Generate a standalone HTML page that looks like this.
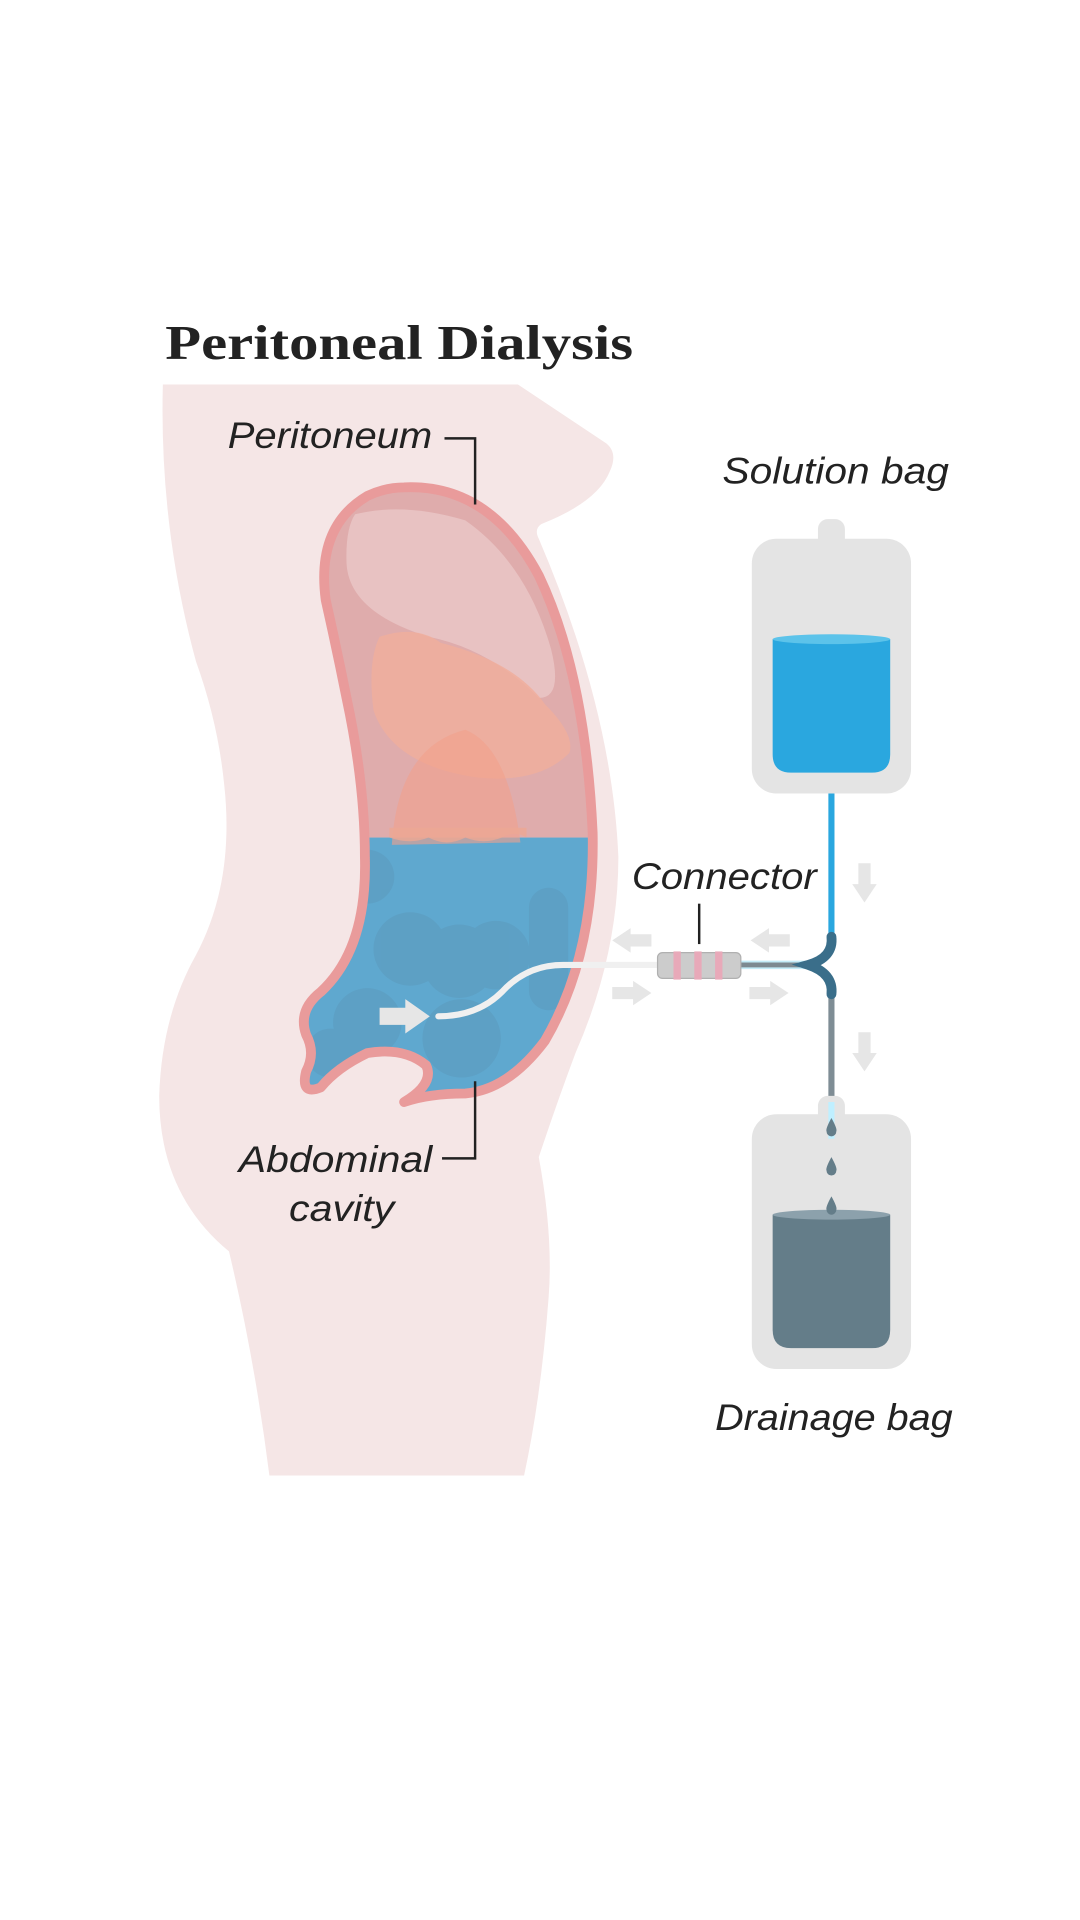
<!DOCTYPE html>
<html><head><meta charset="utf-8"><style>
html,body{margin:0;padding:0;background:#fff;}
svg{display:block;}
.lbl{font-family:"Liberation Sans",sans-serif;font-style:italic;font-size:30px;fill:#222;}
</style></head><body>
<svg width="1080" height="1920" viewBox="0 0 882 1568" xmlns="http://www.w3.org/2000/svg">
<rect width="882" height="1568" fill="#fff"/>
<text x="135" y="293" font-family="Liberation Serif, serif" font-weight="bold" font-size="40" fill="#222" textLength="382" lengthAdjust="spacingAndGlyphs">Peritoneal Dialysis</text>
<!-- body -->
<path d="M133,314 L423,314 L495,362 Q505,370 498,385 Q488,410 442,428 Q436,432 440,440 Q500,580 505,700 Q505,780 470,860 Q455,900 440,945 Q452,1010 448,1060 Q442,1140 428,1205 L220,1205 Q208,1110 187,1022 Q130,975 130,895 Q132,830 160,780 Q192,720 183,640 Q178,590 160,540 Q130,430 133,314 Z" fill="#f5e6e6"/>
<defs>
<clipPath id="cav"><path d="M330,398 Q400,395 440,470 Q478,550 484,680 Q486,780 445,850 Q415,890 380,893 Q350,893 330,900 Q355,885 348,870 Q330,855 300,860 Q275,872 262,888 Q245,895 250,875 Q258,860 250,845 Q243,825 262,810 Q300,775 298,700 Q298,640 283,570 Q275,530 266,490 Q258,430 300,405 Q315,398 330,398 Z"/></clipPath>
</defs>
<g clip-path="url(#cav)">
<rect x="240" y="390" width="260" height="294" fill="#dfacac"/>
<rect x="240" y="684" width="260" height="220" fill="#5fa8cf"/>
<path d="M290,420 Q330,410 380,425 Q430,460 450,530 Q460,570 440,570 Q400,530 350,520 Q285,500 283,460 Q282,432 290,420 Z" fill="#e8c2c2"/>
<path d="M310,520 Q340,510 360,525 Q420,540 445,575 Q470,600 465,615 Q440,640 390,635 Q320,625 305,580 Q300,540 310,520 Z" fill="#f0ae9c" opacity="0.85"/>
<path d="M320,690 Q325,610 380,596 Q415,610 425,688 Z" fill="#f2a08c" opacity="0.6"/>
<path d="M318,684 Q335,690 350,684 Q365,692 380,684 Q395,690 410,684 Q420,678 430,684 L430,676 L318,676 Z" fill="#eca894" opacity="0.8"/>
<g fill="#5a8fae" opacity="0.3">
<circle cx="300" cy="716" r="22"/>
<circle cx="335" cy="775" r="30"/>
<circle cx="375" cy="785" r="30"/>
<circle cx="405" cy="780" r="28"/>
<rect x="432" y="725" width="32" height="100" rx="16"/>
<circle cx="300" cy="835" r="28"/>
<circle cx="377" cy="848" r="32"/>
<circle cx="270" cy="860" r="20"/>
</g>
</g>
<path d="M330,398 Q400,395 440,470 Q478,550 484,680 Q486,780 445,850 Q415,890 380,893 Q350,893 330,900 Q355,885 348,870 Q330,855 300,860 Q275,872 262,888 Q245,895 250,875 Q258,860 250,845 Q243,825 262,810 Q300,775 298,700 Q298,640 283,570 Q275,530 266,490 Q258,430 300,405 Q315,398 330,398 Z" fill="none" stroke="#e99b9b" stroke-width="8" stroke-linejoin="round"/>
<!-- labels -->
<text class="lbl" x="186" y="366" textLength="167" lengthAdjust="spacingAndGlyphs">Peritoneum</text>
<path d="M363,358 H388 V412" fill="none" stroke="#222" stroke-width="2"/>
<text class="lbl" x="195" y="957" textLength="158" lengthAdjust="spacingAndGlyphs">Abdominal</text>
<text class="lbl" x="236" y="997" textLength="86" lengthAdjust="spacingAndGlyphs">cavity</text>
<path d="M361,946 H388 V883" fill="none" stroke="#222" stroke-width="2"/>
<text class="lbl" x="590" y="395" textLength="185" lengthAdjust="spacingAndGlyphs">Solution bag</text>
<text class="lbl" x="516" y="726" textLength="151" lengthAdjust="spacingAndGlyphs">Connector</text>
<path d="M571,738 V771" stroke="#222" stroke-width="2"/>
<text class="lbl" x="584" y="1168" textLength="194" lengthAdjust="spacingAndGlyphs">Drainage bag</text>
<!-- solution bag -->
<rect x="668" y="424" width="22" height="30" rx="8" fill="#e4e4e4"/>
<rect x="614" y="440" width="130" height="208" rx="20" fill="#e4e4e4"/>
<path d="M631,522 H727 V616 Q727,631 712,631 H646 Q631,631 631,616 Z" fill="#2aa7df"/>
<ellipse cx="679" cy="522" rx="48" ry="4" fill="#5cc3ea"/>
<line x1="679" y1="648" x2="679" y2="768" stroke="#2aa7df" stroke-width="5"/>
<!-- drainage -->
<line x1="679" y1="808" x2="679" y2="905" stroke="#7f8d95" stroke-width="5"/>
<rect x="668" y="895" width="22" height="30" rx="8" fill="#e4e4e4"/>
<rect x="614" y="910" width="130" height="208" rx="20" fill="#e4e4e4"/>
<line x1="679" y1="900" x2="679" y2="930" stroke="#bfefff" stroke-width="5"/>
<path d="M631,992 H727 V1086 Q727,1101 712,1101 H646 Q631,1101 631,1086 Z" fill="#647d89"/>
<ellipse cx="679" cy="992" rx="48" ry="4" fill="#8ca1ac"/>
<g fill="#647d89">
<path d="M679,913 Q684,922 683,924 A4,4 0 0 1 675,924 Q674,922 679,913 Z"/>
<path d="M679,945 Q684,954 683,956 A4,4 0 0 1 675,956 Q674,954 679,945 Z"/>
<path d="M679,977 Q684,986 683,988 A4,4 0 0 1 675,988 Q674,986 679,977 Z"/>
</g>
<!-- tubes -->
<path d="M537,788 H460 Q430,788 410,810 Q390,830 358,830" fill="none" stroke="#f0f0f0" stroke-width="5" stroke-linecap="round"/>
<line x1="603" y1="788" x2="660" y2="788" stroke="#c4ecf8" stroke-width="7"/>
<line x1="603" y1="788" x2="660" y2="788" stroke="#7d8a91" stroke-width="4"/>
<path d="M679,765 Q681,782 660,788 Q681,795 679,812" fill="none" stroke="#3a6e8a" stroke-width="8" stroke-linecap="round"/>
<rect x="537" y="778" width="68" height="21" rx="4" fill="#cccccc" stroke="#b0b0b0" stroke-width="1"/>
<g fill="#e8a9b9"><rect x="550" y="777" width="6" height="23"/><rect x="567" y="777" width="6" height="23"/><rect x="584" y="777" width="6" height="23"/></g>
<!-- arrows -->
<g fill="#e6e6e6">
<path d="M532,763 H515 V758 L500,768 L515,778 V773 H532 Z"/>
<path d="M645,763 H628 V758 L613,768 L628,778 V773 H645 Z"/>
<path d="M500,806 H517 V801 L532,811 L517,821 V816 H500 Z"/>
<path d="M612,806 H629 V801 L644,811 L629,821 V816 H612 Z"/>
<path d="M701,705 V722 H696 L706,737 L716,722 H711 V705 Z"/>
<path d="M701,843 V860 H696 L706,875 L716,860 H711 V843 Z"/>
<path d="M310,823 H331 V816 L351,830 L331,844 V837 H310 Z"/>
</g>
</svg>
</body></html>
